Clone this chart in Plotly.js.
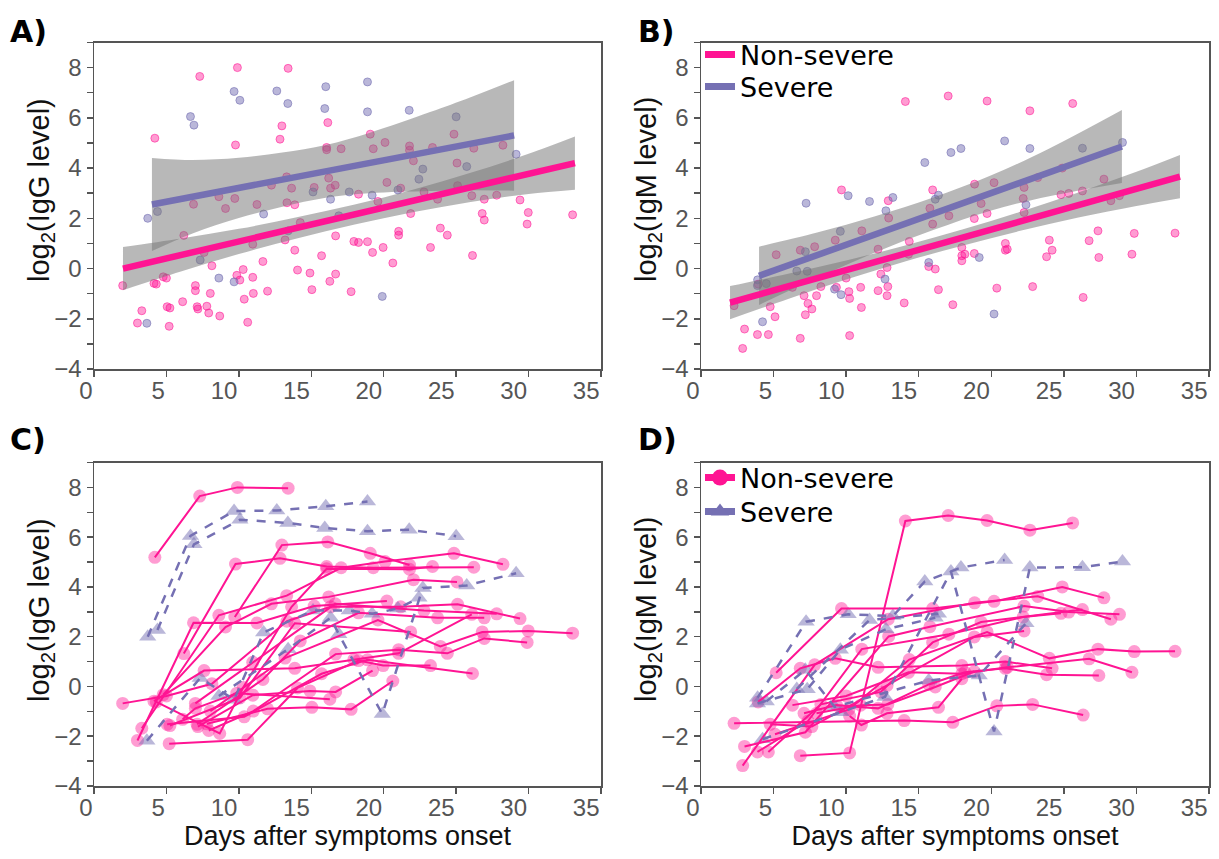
<!DOCTYPE html>
<html>
<head>
<meta charset="utf-8">
<script src="https://cdn.plot.ly/plotly-3.0.1.min.js"></script>
<style>html,body{margin:0;padding:0;background:#fff;}#plot{width:1219px;height:859px;}</style>
</head>
<body>
<div id="plot"></div>
<script>
// ---------- IgG, non-severe patients (days, log2 level) ----------
const iggNsDays = [
 [4.2,7.3,9.9,13.4],
 [9.72,12.97,16.14,19.07,21.78],
 [6.2,9.77,12.84,16.06,19.28,26.22],
 [3.3,8.62,13.3,17.06,20.09,24.85,28.23],
 [4.78,9.08,12.25,16.2,22.05,25.06],
 [3.0,6.87,11.25,15.2,20.22],
 [1.98,5.0,8.14,13.32,16.33,21.17,25.1,29.41],
 [7.0,10.96,16.65,22.78,27.8],
 [7.12,11.66,14.24,18.26,23.72,26.94],
 [8.03,13.19,19.6,23.91,26.8,29.98,33.04],
 [5.24,10.07,13.86,21.86],
 [7.92,11.0,16.68,21.03,24.39,26.94,29.9],
 [4.14,7.6,13.86,17.94,21.03,26.08],
 [5.19,10.61,14.05,18.26,19.96,23.23],
 [7.79,11.98,15.04,17.75,20.63],
 [5.05,10.37,15.71,18.88,26.13],
 [7.17,10.96,14.91,16.68,19.23],
 [4.3,8.68,10.3,13.64,16.06,21.78,23.37],
 [6.12,7.0,9.86,16.28]
];
const iggNsVals = [
 [5.19,7.65,8.0,7.97],
 [2.79,5.68,5.81,5.35,4.88],
 [1.32,4.92,5.15,4.82,4.77,4.79],
 [-1.68,2.86,3.65,4.77,5.02,5.35,4.91],
 [-0.33,2.39,3.32,3.6,4.29,4.2],
 [-2.17,2.56,2.55,3.23,3.43],
 [-0.68,-0.38,0.11,2.62,3.2,3.2,3.3,2.73],
 [-0.68,0.97,3.32,3.05,2.92],
 [-1.52,0.28,1.83,2.96,2.76,2.76],
 [-0.99,1.14,2.67,1.61,2.19,2.23,2.14],
 [-1.57,-0.46,2.54,2.19],
 [-1.77,-0.99,1.3,1.48,1.33,1.93,1.77],
 [-0.59,0.64,0.73,1.08,1.33,2.9],
 [-2.3,-2.14,-0.06,1.04,0.84,0.84],
 [-1.5,-0.9,-0.84,-0.92,0.22],
 [-1.52,-1.22,0.51,1.07,0.52],
 [-1.61,-0.35,-0.18,-0.22,0.64],
 [-0.62,-1.89,-0.04,3.2,4.73,4.71,4.82],
 [-1.32,-0.88,-0.27,-0.51]
];
// ---------- IgG, severe patients ----------
const iggSDays = [
 [3.71,6.66,9.67,12.62,16.0,18.88],
 [4.38,6.9,10.07,13.38,15.93,18.88,21.76,25.0],
 [3.65,7.33,9.67,11.71,15.12,17.62,19.2,20.98,22.43],
 [8.62,13.4,16.33,16.9,19.9,22.7,25.73,29.14]
];
const iggSVals = [
 [2.0,6.05,7.05,7.07,7.24,7.43],
 [2.27,5.71,6.7,6.57,6.37,6.24,6.3,6.04],
 [-2.18,0.34,-0.53,2.17,3.05,3.05,2.92,3.13,3.56],
 [-0.38,1.5,2.76,2.1,-1.11,3.96,4.06,4.55]
];
// ---------- IgM, non-severe patients ----------
const igmNsDays = [
 [6.84,10.24,14.08,17.03,19.71,22.66,25.61],
 [2.28,14.0,17.35,20.38,22.85,26.33],
 [5.18,9.68,15.96,20.19,24.89,27.76],
 [2.87,7.83,12.9,18.85,23.2,28.24],
 [3.0,7.19,12.93,15.77,22.26,25.34,28.83],
 [3.89,7.37,11.08,17.08,22.2,24.8],
 [4.64,8.26,12.39,15.96,19.3,26.28],
 [4.77,7.64,12.82,18.83,22.26],
 [5.1,10.19,14.35,19.71,24.0,27.35,29.85,32.66],
 [3.94,6.84,9.25,12.2,17.97,20.97,24.19],
 [6.3,10.0,14.3,17.97,21.1,26.74,29.69],
 [7.1,9.33,12.2,15.69,18.18,20.97,23.81,27.41],
 [7.96,11.0,12.87,16.14,18.83],
 [10.24,11.05,12.82,16.36,17.97]
];
const igmNsVals = [
 [-2.78,-2.67,6.65,6.87,6.67,6.28,6.57],
 [-1.48,-1.37,-1.44,-0.78,-0.72,-1.15],
 [0.55,3.13,3.13,3.42,4.0,3.56],
 [-3.18,0.87,2.7,3.36,3.62,2.7],
 [-2.41,-1.84,2.01,2.4,3.23,2.99,2.9],
 [-2.63,-1.39,1.5,2.1,2.79,2.94],
 [-2.63,-0.72,-0.22,1.77,2.59,3.09],
 [-1.52,-1.61,0.04,1.99,2.23],
 [-1.92,-0.92,1.08,2.19,1.13,1.5,1.4,1.41],
 [-0.62,0.73,1.13,0.77,0.84,1.0,0.73],
 [-0.75,-0.38,0.57,0.51,0.77,1.11,0.57],
 [-1.08,-0.75,-0.88,0.08,0.57,0.73,0.47,0.44],
 [-1.08,-0.75,-0.72,-0.02,0.6],
 [-1.19,-1.55,-1.08,-0.84,0.31]
];
// ---------- IgM, severe patients ----------
const igmSDays = [
 [3.9,7.24,10.14,13.22,15.42,17.91,20.92],
 [4.24,9.65,12.68,17.22,20.19,22.66,26.28,29.04],
 [3.89,7.32,9.6,12.74,16.14],
 [4.5,7.19,9.2,15.69,19.17,22.39],
 [6.6,11.61,16.36]
];
const igmSVals = [
 [-0.45,2.6,2.9,2.83,4.22,4.78,5.08],
 [-2.12,-1.04,-0.42,4.62,-1.81,4.78,4.79,5.02],
 [-0.68,-0.11,1.48,2.3,2.76],
 [-0.6,0.67,-0.82,0.24,0.44,2.54],
 [-0.1,2.67,2.92]
];
// ---------- Linear fits with confidence bands ----------
const iggFitNsDays = [2.0,6,10,14,18,22,26,30,33.2];
const iggFitNs     = [0,0.54,1.08,1.62,2.15,2.69,3.23,3.77,4.2];
const iggFitNsLo   = [-0.86,-0.12,0.58,1.2,1.75,2.24,2.65,2.97,3.14];
const iggFitNsHi   = [0.86,1.2,1.58,2.04,2.55,3.14,3.81,4.57,5.26];
const iggFitSDays  = [4.0,6.8,10,13,16,19,23.2,26,29];
const iggFitS      = [2.55,2.86,3.21,3.54,3.87,4.2,4.66,4.97,5.3];
const iggFitSLo    = [0.7,1.4,2.01,2.46,2.82,3.0,3.09,3.12,3.1];
const iggFitSHi    = [4.4,4.32,4.41,4.62,4.92,5.4,6.23,6.82,7.5];

const igmFitNsDays = [2.0,6,10,14,18,22,26,30,33];
const igmFitNs     = [-1.36,-0.71,-0.06,0.59,1.23,1.88,2.53,3.17,3.66];
const igmFitNsLo   = [-2.02,-1.21,-0.44,0.27,0.91,1.5,2.03,2.49,2.8];
const igmFitNsHi   = [-0.7,-0.21,0.32,0.91,1.55,2.26,3.03,3.85,4.52];
const igmFitSDays  = [4.0,8,12,16,20,24,29];
const igmFitS      = [-0.29,0.53,1.36,2.18,3.01,3.83,4.86];
const igmFitSLo    = [-1.45,-0.37,0.64,1.53,2.31,2.88,3.41];
const igmFitSHi    = [0.87,1.43,2.08,2.83,3.71,4.78,6.31];

const groupNames = ['Non-severe','Severe'];
const xTickVals = [0,5,10,15,20,25,30,35];

// ---------- styling ----------
const PINK = '#ff1493', PURPLE = '#7570b3';
const PINK_PT = 'rgba(255,20,147,0.42)', PURPLE_PT = 'rgba(117,112,179,0.5)';
const BAND = 'rgba(118,118,118,0.52)';
const TICKFONT = {family:'Liberation Sans, Arial, sans-serif', size:24, color:'#555'};
const TITLEFONT = {family:'Liberation Sans, Arial, sans-serif', size:27, color:'#111'};
const YTITLEFONT = {family:'Liberation Sans, Arial, sans-serif', size:29, color:'#111'};

function flat(arrs){ return [].concat(...arrs); }
function withGaps(arrs){ const out=[]; arrs.forEach((a,i)=>{ if(i) out.push(null); out.push(...a); }); return out; }

const traces = [];
function scatterPanel(xa, ya, nsD, nsV, sD, sV, fits){
  traces.push({x:flat(nsD), y:flat(nsV), xaxis:xa, yaxis:ya, type:'scatter', mode:'markers', showlegend:false, hoverinfo:'skip',
    marker:{size:8, color:PINK_PT, line:{color:'rgba(255,20,147,0.55)', width:1}}});
  traces.push({x:flat(sD), y:flat(sV), xaxis:xa, yaxis:ya, type:'scatter', mode:'markers', showlegend:false, hoverinfo:'skip',
    marker:{size:8, color:PURPLE_PT, line:{color:'rgba(117,112,179,0.6)', width:1}}});
  fits.forEach(f=>{
    traces.push({x:f.d, y:f.lo, xaxis:xa, yaxis:ya, type:'scatter', mode:'lines', line:{width:0, shape:'spline', color:'rgba(0,0,0,0)'}, showlegend:false, hoverinfo:'skip'});
    traces.push({x:f.d, y:f.hi, xaxis:xa, yaxis:ya, type:'scatter', mode:'lines', fill:'tonexty', fillcolor:BAND, line:{width:0, shape:'spline', color:'rgba(0,0,0,0)'}, showlegend:false, hoverinfo:'skip'});
  });
  fits.forEach(f=>{
    traces.push({x:f.d, y:f.fit, xaxis:xa, yaxis:ya, type:'scatter', mode:'lines', line:{width:6.5, color:f.color}, showlegend:false, hoverinfo:'skip'});
  });
}
function trajPanel(xa, ya, nsD, nsV, sD, sV){
  traces.push({x:flat(nsD), y:flat(nsV), xaxis:xa, yaxis:ya, type:'scatter', mode:'markers', showlegend:false, hoverinfo:'skip',
    marker:{size:13, color:PINK_PT, symbol:'circle'}});
  traces.push({x:flat(sD), y:flat(sV), xaxis:xa, yaxis:ya, type:'scatter', mode:'markers', showlegend:false, hoverinfo:'skip',
    marker:{size:15, color:PURPLE_PT, symbol:'triangle-up'}});
  traces.push({x:withGaps(nsD), y:withGaps(nsV), xaxis:xa, yaxis:ya, type:'scatter', mode:'lines', connectgaps:false, showlegend:false, hoverinfo:'skip',
    line:{color:PINK, width:2}});
  traces.push({x:withGaps(sD), y:withGaps(sV), xaxis:xa, yaxis:ya, type:'scatter', mode:'lines', connectgaps:false, showlegend:false, hoverinfo:'skip',
    line:{color:PURPLE, width:2.5, dash:'dash'}});
}

scatterPanel('x','y', iggNsDays, iggNsVals, iggSDays, iggSVals, [
  {d:iggFitNsDays, fit:iggFitNs, lo:iggFitNsLo, hi:iggFitNsHi, color:PINK},
  {d:iggFitSDays, fit:iggFitS, lo:iggFitSLo, hi:iggFitSHi, color:PURPLE}]);
scatterPanel('x2','y2', igmNsDays, igmNsVals, igmSDays, igmSVals, [
  {d:igmFitNsDays, fit:igmFitNs, lo:igmFitNsLo, hi:igmFitNsHi, color:PINK},
  {d:igmFitSDays, fit:igmFitS, lo:igmFitSLo, hi:igmFitSHi, color:PURPLE}]);
trajPanel('x3','y3', iggNsDays, iggNsVals, iggSDays, iggSVals);
trajPanel('x4','y4', igmNsDays, igmNsVals, igmSDays, igmSVals);

// legend entries (one legend box per entry so the row spacing can match)
traces.push({x:[null], y:[null], xaxis:'x2', yaxis:'y2', type:'scatter', mode:'lines', name:groupNames[0], legend:'legend', line:{color:PINK, width:7}});
traces.push({x:[null], y:[null], xaxis:'x2', yaxis:'y2', type:'scatter', mode:'lines', name:groupNames[1], legend:'legend3', line:{color:PURPLE, width:7}});
traces.push({x:[null], y:[null], xaxis:'x4', yaxis:'y4', type:'scatter', mode:'lines+markers', name:groupNames[0], legend:'legend2', line:{color:PINK, width:7}, marker:{color:PINK, size:16, symbol:'circle'}});
traces.push({x:[null], y:[null], xaxis:'x4', yaxis:'y4', type:'scatter', mode:'lines+markers', name:groupNames[1], legend:'legend4', line:{color:PURPLE, width:7}, marker:{color:PURPLE, size:18, symbol:'triangle-up'}});

const W=1219, H=859;
const xdL=[94/W, 601/W], xdR=[701/W, 1209/W];
const ydT=[(H-369)/H, (H-42.5)/H], ydB=[(H-786)/H, (H-462.5)/H];

function xax(dom, anchor, title){
  const a = {domain:dom, anchor:anchor, range:[0,35], tickvals:xTickVals, ticks:'outside', ticklen:6, tickwidth:1.5, tickcolor:'#555',
    showline:true, mirror:true, linecolor:'#555', linewidth:1.5, showgrid:false, zeroline:false,
    tickfont:TICKFONT, ticklabelposition:'outside left', fixedrange:true};
  if(title) a.title = {text:title, font:TITLEFONT, standoff:2};
  return a;
}
function yax(dom, anchor){
  return {domain:dom, anchor:anchor, range:[-4,9], tick0:0, dtick:2, ticks:'outside', ticklen:6, tickwidth:1.5, tickcolor:'#555',
    minor:{dtick:1, ticks:'outside', ticklen:6, tickwidth:1.5, tickcolor:'#555', showgrid:false},
    showline:true, mirror:true, linecolor:'#555', linewidth:1.5, showgrid:false, zeroline:false,
    tickfont:TICKFONT, fixedrange:true};
}
function leg(xpx, ypx){
  return {x:xpx/W, y:(H-ypx)/H, xanchor:'left', yanchor:'middle', bgcolor:'rgba(0,0,0,0)', borderwidth:0,
    font:{family:'DejaVu Sans, sans-serif', size:27, color:'#000'}, itemwidth:30};
}

const letterFont = {family:'DejaVu Sans, sans-serif', size:30, color:'#000'};
function letter(t, xpx, ypx){ return {text:'<b>'+t+'</b>', xref:'paper', yref:'paper', x:xpx/W, y:(H-ypx)/H, xanchor:'left', yanchor:'middle', showarrow:false, font:letterFont}; }
function ytitle(t, xpx, ypx){ return {text:t, xref:'paper', yref:'paper', x:xpx/W, y:(H-ypx)/H, xanchor:'center', yanchor:'middle', textangle:-90, showarrow:false, font:YTITLEFONT}; }

const layout = {
  width:W, height:H, margin:{l:0,r:0,t:0,b:0}, paper_bgcolor:'#fff', plot_bgcolor:'#fff', showlegend:true,
  xaxis:xax(xdL,'y'), yaxis:yax(ydT,'x'),
  xaxis2:xax(xdR,'y2'), yaxis2:yax(ydT,'x2'),
  xaxis3:xax(xdL,'y3','Days after symptoms onset'), yaxis3:yax(ydB,'x3'),
  xaxis4:xax(xdR,'y4','Days after symptoms onset'), yaxis4:yax(ydB,'x4'),
  legend:leg(700, 55), legend3:leg(700, 87),
  legend2:leg(700, 478), legend4:leg(700, 512),
  annotations:[
    letter('A)', 8, 31), letter('B)', 636, 31), letter('C)', 8, 440), letter('D)', 636, 440),
    ytitle('log<sub>2</sub>(IgG level)', 41, 190), ytitle('log<sub>2</sub>(IgM level)', 648, 190),
    ytitle('log<sub>2</sub>(IgG level)', 41, 610), ytitle('log<sub>2</sub>(IgM level)', 648, 610)
  ]
};
Plotly.newPlot('plot', traces, layout, {displayModeBar:false, staticPlot:true});
</script>
</body>
</html>
